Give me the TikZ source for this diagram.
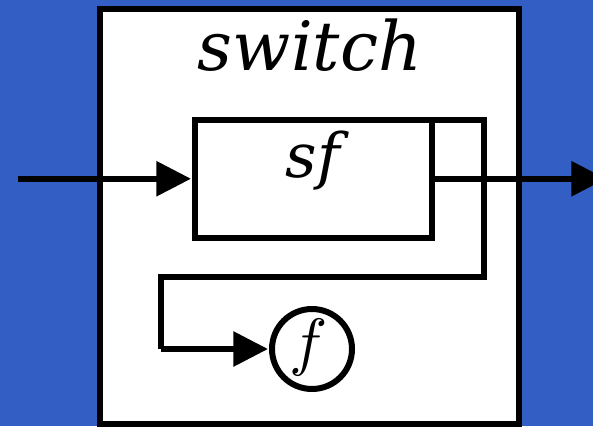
\documentclass[tikz,border=0pt]{standalone}
\usepackage{fontspec}
\usepackage{graphicx}
\setmainfont{DejaVu Serif}
\usetikzlibrary{arrows.meta}
\definecolor{bgblue}{RGB}{51,94,196}
\tikzset{
  thick line/.style={line width=4.5pt},
  box/.style={draw, thick line, fill=white, rectangle, inner sep=0pt, outer sep=0pt},
  arr/.style={thick line, -{Triangle[length=26pt,width=25.5pt]}, shorten >=3pt},
  wire/.style={thick line, line join=miter},
}
\begin{document}
\begin{tikzpicture}[x=0.75pt,y=-0.75pt]
\fill[bgblue] (0,0) rectangle (593,426);
\useasboundingbox (0,0) rectangle (593,426);
\node[box, minimum width=419*0.75pt, minimum height=415*0.75pt] (outer) at (309.5,216) {};
\node[font=\itshape\fontsize{51}{51}\selectfont, inner sep=0pt, anchor=base] (title) at (310,70) {switch};
\node[box, minimum width=237*0.75pt, minimum height=117.5*0.75pt] (sf) at (313.5,178.75) {};
\node[font=\itshape\fontsize{46}{46}\selectfont, inner sep=0pt, anchor=base] (sftext) at (313,177) {sf};
\node[draw, thick line, circle, minimum size=80*0.75pt, inner sep=0pt, outer sep=0pt] (f) at (312,349) {};
\node[inner sep=0pt] (ftext) at (309,347) {\scalebox{4.8}{$f$}};
\coordinate (in) at (18,178.75);
\coordinate (out) at (606,178.75);
\coordinate (c1) at (484,120);
\coordinate (c2) at (484,277);
\coordinate (c3) at (161,277);
\coordinate (c4) at (161,349);
\draw[arr] (in) -- (sf.west);
\draw[arr, shorten >=0pt] (sf.east) -- (out);
\draw[wire] (sf.north east) -- (c1) -- (c2) -- (c3) -- (c4);
\draw[arr] (c4) -- (f.west);
\end{tikzpicture}
\end{document}
